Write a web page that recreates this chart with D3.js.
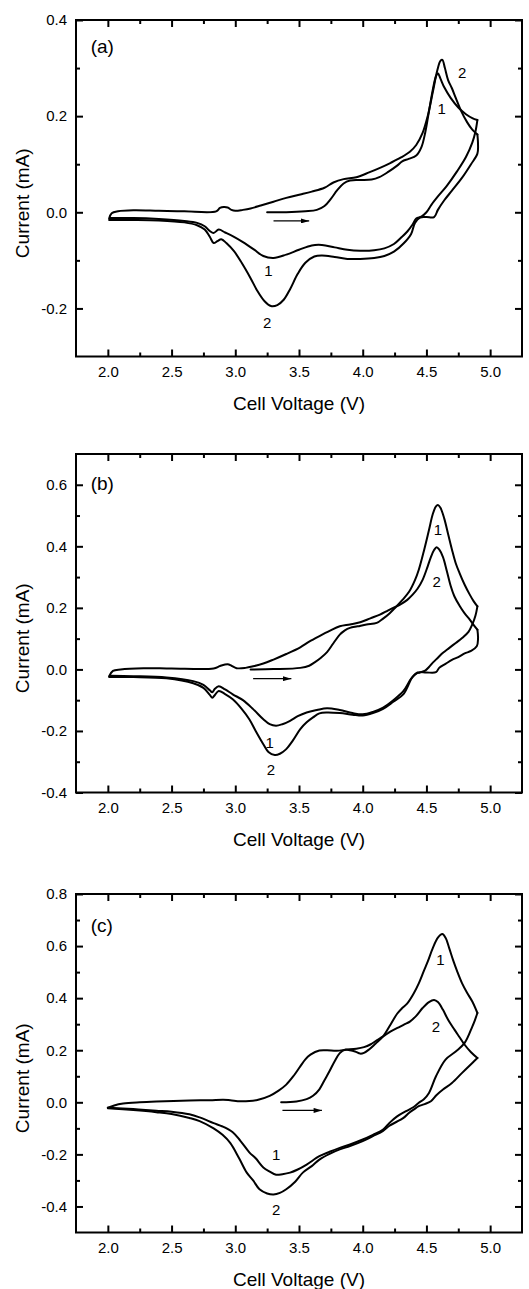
<!DOCTYPE html>
<html><head><meta charset="utf-8">
<script src="https://cdn.jsdelivr.net/npm/d3@7"></script>
<style>
body{margin:0;background:#fff}
svg{display:block}
text{font-family:Arial,"Liberation Sans",Helvetica,sans-serif;fill:#000}
</style>
</head><body>
<svg id="chart" width="529" height="1289"></svg>
<script>
// ---------------- DATA ----------------
const xDomain = [1.75, 5.25];
const xMajorTicks = [2.0, 2.5, 3.0, 3.5, 4.0, 4.5, 5.0];
const xMinorTicks = [2.25, 2.75, 3.25, 3.75, 4.25, 4.75];
const xTitle = "Cell Voltage (V)";
const yTitle = "Current (mA)";
const panelNames = ["(a)", "(b)", "(c)"];

const yDomainA = [-0.3, 0.4];
const yMajorA = [-0.2, 0.0, 0.2, 0.4];
const yMinorA = [-0.1, 0.1, 0.3];
const yDomainB = [-0.4, 0.7];
const yMajorB = [-0.4, -0.2, 0.0, 0.2, 0.4, 0.6];
const yMinorB = [-0.3, -0.1, 0.1, 0.3, 0.5];
const yDomainC = [-0.5, 0.8];
const yMajorC = [-0.4, -0.2, 0.0, 0.2, 0.4, 0.6, 0.8];
const yMinorC = [-0.3, -0.1, 0.1, 0.3, 0.5, 0.7];

// Panel (a): [voltage V, current mA]
const A_c1_anodic = [[3.25,0.0],[3.40,0.0],[3.55,0.002],[3.64,0.005],[3.70,0.013],[3.75,0.028],[3.80,0.046],[3.85,0.060],[3.90,0.066],[3.98,0.067],[4.07,0.068],[4.13,0.073],[4.20,0.084],[4.27,0.097],[4.31,0.106],[4.36,0.111],[4.42,0.118],[4.46,0.135],[4.49,0.165],[4.52,0.21],[4.55,0.255],[4.575,0.283],[4.59,0.289],[4.61,0.278],[4.64,0.260],[4.69,0.238],[4.75,0.218],[4.81,0.204],[4.86,0.196],[4.90,0.192]];
const A_c1_cathodic = [[4.90,0.192],[4.885,0.168],[4.86,0.145],[4.81,0.115],[4.74,0.085],[4.66,0.055],[4.59,0.033],[4.54,0.016],[4.50,0.0],[4.46,-0.009],[4.42,-0.013],[4.39,-0.026],[4.35,-0.040],[4.30,-0.053],[4.245,-0.066],[4.17,-0.075],[4.09,-0.079],[3.98,-0.080],[3.88,-0.078],[3.78,-0.073],[3.68,-0.068],[3.60,-0.069],[3.50,-0.078],[3.40,-0.088],[3.30,-0.095],[3.22,-0.091],[3.145,-0.077],[3.06,-0.062],[2.99,-0.051],[2.92,-0.042],[2.87,-0.036],[2.83,-0.043],[2.80,-0.039],[2.76,-0.029],[2.70,-0.022],[2.60,-0.018],[2.40,-0.014],[2.20,-0.012],[2.02,-0.012]];
const A_c2_anodic = [[2.01,-0.013],[2.03,-0.002],[2.08,0.002],[2.20,0.004],[2.40,0.003],[2.60,0.002],[2.85,0.002],[2.88,0.009],[2.91,0.011],[2.94,0.010],[2.97,0.005],[3.00,0.003],[3.06,0.005],[3.12,0.008],[3.20,0.014],[3.30,0.022],[3.40,0.030],[3.51,0.037],[3.60,0.043],[3.70,0.051],[3.77,0.062],[3.85,0.069],[3.95,0.073],[4.05,0.083],[4.14,0.093],[4.22,0.103],[4.30,0.114],[4.37,0.126],[4.42,0.140],[4.47,0.165],[4.51,0.20],[4.55,0.25],[4.585,0.295],[4.61,0.315],[4.625,0.317],[4.645,0.300],[4.67,0.275],[4.70,0.258],[4.73,0.238],[4.77,0.212],[4.82,0.187],[4.86,0.172],[4.90,0.162]];
const A_c2_cathodic = [[4.90,0.162],[4.905,0.140],[4.90,0.122],[4.85,0.100],[4.78,0.072],[4.70,0.045],[4.64,0.025],[4.59,0.005],[4.56,-0.010],[4.50,-0.010],[4.45,-0.011],[4.41,-0.022],[4.38,-0.045],[4.32,-0.065],[4.245,-0.082],[4.17,-0.091],[4.09,-0.095],[3.98,-0.097],[3.88,-0.097],[3.78,-0.093],[3.68,-0.090],[3.62,-0.092],[3.55,-0.105],[3.49,-0.128],[3.43,-0.160],[3.38,-0.182],[3.33,-0.193],[3.28,-0.195],[3.23,-0.185],[3.17,-0.162],[3.12,-0.137],[3.05,-0.105],[2.99,-0.081],[2.93,-0.064],[2.89,-0.056],[2.86,-0.060],[2.83,-0.064],[2.80,-0.051],[2.76,-0.036],[2.70,-0.027],[2.60,-0.021],[2.40,-0.017],[2.20,-0.016],[2.01,-0.016]];

// Panel (b)
const B_c1_anodic = [[3.12,0.0],[3.30,0.001],[3.51,0.005],[3.58,0.012],[3.62,0.022],[3.67,0.037],[3.72,0.056],[3.77,0.085],[3.82,0.113],[3.86,0.127],[3.90,0.135],[3.96,0.140],[4.03,0.146],[4.11,0.151],[4.16,0.165],[4.21,0.182],[4.26,0.203],[4.31,0.225],[4.365,0.253],[4.41,0.29],[4.44,0.324],[4.48,0.385],[4.52,0.453],[4.55,0.505],[4.575,0.530],[4.59,0.534],[4.61,0.525],[4.64,0.49],[4.67,0.44],[4.70,0.39],[4.73,0.345],[4.76,0.313],[4.80,0.275],[4.84,0.243],[4.87,0.222],[4.90,0.205]];
const B_c1_cathodic = [[4.90,0.205],[4.885,0.175],[4.86,0.146],[4.83,0.122],[4.78,0.102],[4.73,0.086],[4.68,0.070],[4.63,0.054],[4.59,0.038],[4.55,0.022],[4.52,0.008],[4.49,-0.004],[4.45,-0.010],[4.42,-0.014],[4.38,-0.030],[4.32,-0.070],[4.24,-0.100],[4.16,-0.124],[4.08,-0.138],[4.00,-0.146],[3.92,-0.142],[3.82,-0.132],[3.72,-0.126],[3.64,-0.132],[3.56,-0.140],[3.49,-0.152],[3.43,-0.167],[3.37,-0.178],[3.32,-0.183],[3.27,-0.178],[3.22,-0.162],[3.14,-0.129],[3.06,-0.100],[2.98,-0.081],[2.92,-0.065],[2.87,-0.055],[2.84,-0.063],[2.82,-0.074],[2.80,-0.068],[2.75,-0.050],[2.67,-0.038],[2.46,-0.026],[2.20,-0.022],[2.02,-0.021]];
const B_c2_anodic = [[2.01,-0.022],[2.04,-0.005],[2.10,0.0],[2.28,0.004],[2.50,0.003],[2.83,0.003],[2.88,0.011],[2.94,0.017],[2.97,0.012],[3.01,0.004],[3.08,0.005],[3.14,0.010],[3.22,0.019],[3.30,0.032],[3.40,0.050],[3.51,0.072],[3.58,0.090],[3.66,0.108],[3.74,0.125],[3.82,0.140],[3.90,0.146],[3.98,0.153],[4.06,0.166],[4.135,0.178],[4.20,0.192],[4.24,0.200],[4.29,0.210],[4.35,0.226],[4.39,0.242],[4.43,0.262],[4.47,0.291],[4.51,0.335],[4.535,0.365],[4.56,0.388],[4.58,0.397],[4.60,0.390],[4.63,0.365],[4.66,0.320],[4.69,0.272],[4.72,0.237],[4.76,0.207],[4.80,0.182],[4.84,0.162],[4.87,0.145],[4.90,0.129]];
const B_c2_cathodic = [[4.90,0.129],[4.905,0.100],[4.895,0.075],[4.85,0.060],[4.80,0.052],[4.75,0.040],[4.70,0.031],[4.65,0.018],[4.60,0.005],[4.575,-0.009],[4.50,-0.010],[4.43,-0.010],[4.39,-0.025],[4.32,-0.080],[4.24,-0.105],[4.16,-0.128],[4.08,-0.142],[4.00,-0.150],[3.92,-0.147],[3.82,-0.142],[3.72,-0.140],[3.66,-0.143],[3.61,-0.156],[3.56,-0.172],[3.51,-0.194],[3.45,-0.232],[3.40,-0.259],[3.35,-0.274],[3.31,-0.278],[3.26,-0.268],[3.22,-0.243],[3.16,-0.200],[3.11,-0.162],[3.05,-0.128],[2.98,-0.097],[2.92,-0.080],[2.87,-0.070],[2.84,-0.083],[2.82,-0.092],[2.80,-0.083],[2.75,-0.060],[2.67,-0.045],[2.46,-0.029],[2.20,-0.025],[2.01,-0.025]];

// Panel (c)
const C_c1_anodic = [[3.36,0.0],[3.48,0.003],[3.56,0.012],[3.61,0.025],[3.66,0.050],[3.70,0.085],[3.74,0.120],[3.78,0.158],[3.82,0.189],[3.86,0.202],[3.90,0.200],[3.94,0.195],[3.98,0.187],[4.01,0.190],[4.05,0.203],[4.10,0.225],[4.16,0.253],[4.22,0.300],[4.27,0.340],[4.31,0.362],[4.35,0.380],[4.40,0.418],[4.44,0.457],[4.48,0.505],[4.51,0.540],[4.55,0.592],[4.59,0.632],[4.625,0.646],[4.65,0.632],[4.68,0.590],[4.71,0.545],[4.74,0.505],[4.78,0.457],[4.82,0.420],[4.86,0.387],[4.90,0.343]];
const C_c1_cathodic = [[4.90,0.343],[4.88,0.315],[4.86,0.291],[4.80,0.228],[4.73,0.195],[4.65,0.164],[4.575,0.100],[4.52,0.036],[4.48,0.012],[4.44,-0.002],[4.40,-0.018],[4.34,-0.034],[4.27,-0.054],[4.21,-0.079],[4.16,-0.105],[4.08,-0.125],[4.00,-0.143],[3.90,-0.162],[3.82,-0.175],[3.74,-0.190],[3.66,-0.207],[3.56,-0.239],[3.49,-0.258],[3.43,-0.270],[3.37,-0.276],[3.32,-0.278],[3.27,-0.266],[3.22,-0.250],[3.16,-0.215],[3.11,-0.192],[3.04,-0.148],[2.98,-0.115],[2.90,-0.093],[2.83,-0.080],[2.72,-0.058],[2.64,-0.046],[2.50,-0.036],[2.38,-0.032],[2.20,-0.026],[2.00,-0.021]];
const C_c2_anodic = [[2.00,-0.021],[2.05,-0.012],[2.12,-0.005],[2.25,0.000],[2.38,0.003],[2.64,0.007],[2.80,0.008],[2.905,0.010],[2.96,0.008],[3.04,0.004],[3.11,0.005],[3.18,0.010],[3.27,0.025],[3.34,0.045],[3.40,0.068],[3.46,0.103],[3.51,0.138],[3.55,0.165],[3.59,0.183],[3.66,0.199],[3.72,0.200],[3.795,0.198],[3.87,0.202],[3.95,0.206],[4.01,0.212],[4.06,0.222],[4.11,0.238],[4.16,0.253],[4.22,0.272],[4.29,0.290],[4.33,0.300],[4.37,0.310],[4.42,0.332],[4.47,0.362],[4.52,0.385],[4.56,0.393],[4.59,0.385],[4.63,0.355],[4.67,0.317],[4.72,0.279],[4.76,0.250],[4.80,0.221],[4.85,0.192],[4.90,0.170]];
const C_c2_cathodic = [[4.90,0.170],[4.86,0.151],[4.78,0.113],[4.70,0.074],[4.63,0.049],[4.58,0.028],[4.535,0.004],[4.48,-0.008],[4.44,-0.015],[4.40,-0.028],[4.365,-0.040],[4.32,-0.060],[4.21,-0.090],[4.16,-0.110],[4.08,-0.130],[4.00,-0.149],[3.90,-0.168],[3.82,-0.181],[3.74,-0.198],[3.66,-0.220],[3.60,-0.245],[3.53,-0.270],[3.47,-0.305],[3.40,-0.334],[3.35,-0.348],[3.30,-0.354],[3.25,-0.350],[3.19,-0.334],[3.14,-0.300],[3.09,-0.270],[3.03,-0.215],[2.96,-0.156],[2.90,-0.125],[2.83,-0.100],[2.72,-0.072],[2.64,-0.060],[2.50,-0.045],[2.38,-0.038],[2.20,-0.030],[2.00,-0.023]];

// Cycle-number labels: [text, V, I]
const A_labels = [["1",3.26,-0.121],["2",3.25,-0.229],["1",4.62,0.216],["2",4.78,0.291]];
const B_labels = [["1",4.59,0.455],["2",4.58,0.286],["1",3.27,-0.237],["2",3.28,-0.324]];
const C_labels = [["1",4.61,0.549],["2",4.575,0.291],["1",3.32,-0.200],["2",3.32,-0.411]];
// Sweep-direction arrows: [V start, V end, I]
const A_arrow = [3.30, 3.58, -0.018];
const B_arrow = [3.14, 3.44, -0.030];
const C_arrow = [3.37, 3.68, -0.031];
// Panel letter anchor: [V, I]
const A_letterPos = [1.865, 0.345];
const B_letterPos = [1.865, 0.604];
const C_letterPos = [1.865, 0.681];

// ---------------- DRAW ----------------
const svg = d3.select("#chart");
svg.append("rect").attr("width",529).attr("height",1289).attr("fill","#fff");
const defs = svg.append("defs");
defs.append("marker").attr("id","ah").attr("viewBox","0 0 10 6")
  .attr("refX",10).attr("refY",3).attr("markerWidth",9).attr("markerHeight",5)
  .attr("markerUnits","userSpaceOnUse").attr("orient","auto")
  .append("path").attr("d","M0,0L10,3L0,6Z").attr("fill","#000");

const left = 76, right = 522;
const layout = [
  {top:20, bottom:356.5},
  {top:454, bottom:792.5},
  {top:894, bottom:1232.5}
];
const panels = [
  {yDomain:yDomainA, yMajor:yMajorA, yMinor:yMinorA, series:[A_c1_anodic,A_c1_cathodic,A_c2_anodic,A_c2_cathodic], labels:A_labels, arrow:A_arrow, letter:A_letterPos},
  {yDomain:yDomainB, yMajor:yMajorB, yMinor:yMinorB, series:[B_c1_anodic,B_c1_cathodic,B_c2_anodic,B_c2_cathodic], labels:B_labels, arrow:B_arrow, letter:B_letterPos},
  {yDomain:yDomainC, yMajor:yMajorC, yMinor:yMinorC, series:[C_c1_anodic,C_c1_cathodic,C_c2_anodic,C_c2_cathodic], labels:C_labels, arrow:C_arrow, letter:C_letterPos}
];

const fmt = d => d.toFixed(1);
const majorLen = 7, minorLen = 4;

panels.forEach((p, i) => {
  const L = layout[i];
  const x = d3.scaleLinear().domain(xDomain).range([left, right]);
  const y = d3.scaleLinear().domain(p.yDomain).range([L.bottom, L.top]);
  const g = svg.append("g");

  const styleAxis = sel => {
    sel.select(".domain").remove();
    sel.selectAll(".tick line").attr("stroke","#000").attr("stroke-width",2);
    sel.selectAll(".tick text").attr("font-size",15).attr("font-family","Arial, 'Liberation Sans', sans-serif").attr("fill","#000");
  };

  // bottom
  g.append("g").attr("transform",`translate(0,${L.bottom})`)
    .call(d3.axisBottom(x).tickValues(xMajorTicks).tickFormat(fmt).tickSize(-majorLen).tickPadding(10)).call(styleAxis);
  g.append("g").attr("transform",`translate(0,${L.bottom})`)
    .call(d3.axisBottom(x).tickValues(xMinorTicks).tickFormat("").tickSize(-minorLen)).call(styleAxis);
  // top
  g.append("g").attr("transform",`translate(0,${L.top})`)
    .call(d3.axisTop(x).tickValues(xMajorTicks).tickFormat("").tickSize(-majorLen)).call(styleAxis);
  g.append("g").attr("transform",`translate(0,${L.top})`)
    .call(d3.axisTop(x).tickValues(xMinorTicks).tickFormat("").tickSize(-minorLen)).call(styleAxis);
  // left
  g.append("g").attr("transform",`translate(${left},0)`)
    .call(d3.axisLeft(y).tickValues(p.yMajor).tickFormat(fmt).tickSize(-majorLen).tickPadding(9)).call(styleAxis);
  g.append("g").attr("transform",`translate(${left},0)`)
    .call(d3.axisLeft(y).tickValues(p.yMinor).tickFormat("").tickSize(-minorLen)).call(styleAxis);
  // right
  g.append("g").attr("transform",`translate(${right},0)`)
    .call(d3.axisRight(y).tickValues(p.yMajor).tickFormat("").tickSize(-majorLen)).call(styleAxis);
  g.append("g").attr("transform",`translate(${right},0)`)
    .call(d3.axisRight(y).tickValues(p.yMinor).tickFormat("").tickSize(-minorLen)).call(styleAxis);

  // frame
  g.append("rect").attr("x",left).attr("y",L.top).attr("width",right-left).attr("height",L.bottom-L.top)
    .attr("fill","none").attr("stroke","#000").attr("stroke-width",2);

  // curves
  const line = d3.line().x(d => x(d[0])).y(d => y(d[1])).curve(d3.curveCatmullRom.alpha(0.5));
  g.selectAll("path.cv").data(p.series).join("path").attr("class","cv")
    .attr("d", line).attr("fill","none").attr("stroke","#000")
    .attr("stroke-width",2).attr("stroke-linejoin","round").attr("stroke-linecap","round");

  // arrow
  g.append("line").attr("x1",x(p.arrow[0])).attr("x2",x(p.arrow[1]))
    .attr("y1",y(p.arrow[2])).attr("y2",y(p.arrow[2]))
    .attr("stroke","#000").attr("stroke-width",1.3).attr("marker-end","url(#ah)");

  // cycle labels
  g.selectAll("text.cl").data(p.labels).join("text").attr("class","cl")
    .attr("x", d => x(d[1])).attr("y", d => y(d[2])).attr("dy","0.36em")
    .attr("text-anchor","middle").attr("font-size",15).text(d => d[0]);

  // panel letter
  g.append("text").attr("x",x(p.letter[0])).attr("y",y(p.letter[1])).attr("dy","0.36em")
    .attr("font-size",19).text(panelNames[i]);

  // axis titles
  g.append("text").attr("x",(left+right)/2).attr("y",L.bottom+47).attr("dy","0.36em")
    .attr("text-anchor","middle").attr("font-size",19).text(xTitle);
  g.append("text").attr("transform",`translate(22,${(L.top+L.bottom)/2+15}) rotate(-90)`)
    .attr("dy","0.36em").attr("text-anchor","middle").attr("font-size",19).text(yTitle);
});
</script>
</body></html>
